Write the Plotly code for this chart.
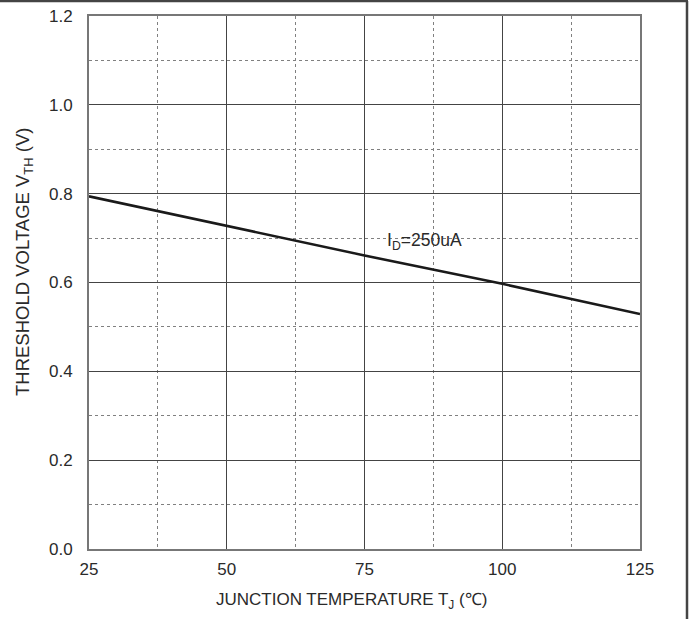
import plotly.graph_objects as go

temps = [25, 50, 75, 100, 125]
vth = [0.794, 0.728, 0.661, 0.597, 0.529]
x_ticks = [25, 50, 75, 100, 125]
y_ticks = [0.0, 0.2, 0.4, 0.6, 0.8, 1.0, 1.2]

W, H = 692, 619
L, R, T, B = 89, 52, 16, 70
pw, ph = W - L - R, H - T - B

fig = go.Figure()
fig.add_trace(go.Scatter(x=temps, y=vth, mode="lines",
                         line=dict(color="#1a1a1a", width=2.6), showlegend=False))

font = "Liberation Sans, Arial, sans-serif"
fig.update_layout(
    width=W, height=H,
    margin=dict(l=L, r=R, t=T, b=B),
    plot_bgcolor="white", paper_bgcolor="white",
    font=dict(family=font, color="#2a2a2a", size=17),
    xaxis=dict(range=[25, 125], tickvals=x_ticks, ticktext=[str(v) for v in x_ticks],
               showgrid=True, gridcolor="#444444", gridwidth=1.2,
               minor=dict(dtick=12.5, tick0=25, showgrid=True, gridcolor="#808080",
                          griddash="dot", gridwidth=1),
               showline=True, mirror=True, linecolor="#777777", linewidth=2,
               zeroline=False, ticks="", ticklabelstandoff=4,
               tickfont=dict(size=17),
               automargin=False),
    yaxis=dict(range=[0, 1.2], tickvals=y_ticks, tickformat=".1f",
               showgrid=True, gridcolor="#444444", gridwidth=1.2,
               minor=dict(dtick=0.1, tick0=0, showgrid=True, gridcolor="#808080",
                          griddash="dot", gridwidth=1),
               showline=True, mirror=True, linecolor="#777777", linewidth=2,
               zeroline=False, ticks="", ticklabelstandoff=11,
               tickfont=dict(size=17),
               automargin=False),
)

# axis titles (placed as annotations to match reference offsets)
fig.add_annotation(xref="paper", yref="paper", x=(351 - L) / pw, y=-(601 - (H - B)) / ph,
                   text="JUNCTION TEMPERATURE T<sub>J</sub> (℃)", showarrow=False,
                   font=dict(size=17), xanchor="center", yanchor="middle")
fig.add_annotation(xref="paper", yref="paper", x=-(L - 24) / pw, y=((H - B) - 262) / ph,
                   text="THRESHOLD VOLTAGE V<sub>TH</sub> (V)", showarrow=False,
                   textangle=-90, font=dict(size=18.5), xanchor="center", yanchor="middle")

fig.add_annotation(x=85.9, y=0.693, text="I<sub>D</sub>=250uA", showarrow=False,
                   font=dict(size=17.5, color="#2a2a2a"))

# outer frame (top and right edges)
x_right = (687 - L) / pw
y_top = 1 + (T - 1) / ph
fig.add_shape(type="line", xref="paper", yref="paper", x0=-L / pw, x1=x_right + 1 / pw,
              y0=y_top, y1=y_top, line=dict(color="#444444", width=2.5))
fig.add_shape(type="line", xref="paper", yref="paper", x0=x_right, x1=x_right,
              y0=y_top, y1=-B / ph, line=dict(color="#444444", width=2.5))

fig.write_html("out.html", config={"displayModeBar": False},
               post_script="document.body.style.margin='0';")
